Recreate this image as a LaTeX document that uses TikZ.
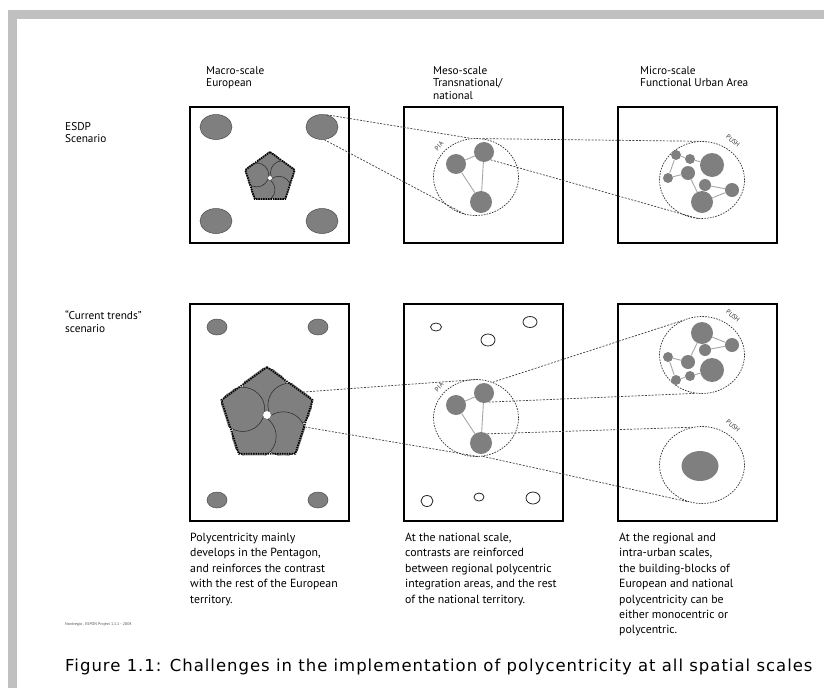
\documentclass[tikz,border=0pt]{standalone}
\usepackage{fontspec}
\setmainfont{PT Sans}
\newfontfamily\figfont[LetterSpace=6]{DejaVu Sans}
\usetikzlibrary{shapes.geometric}

\definecolor{bandgray}{HTML}{C0C0C0}
\definecolor{citygray}{HTML}{7F7F7F}

\tikzset{
  panel/.style={draw=black, line width=2.4pt},
  town/.style={ellipse, draw=black!70, fill=citygray, line width=0.5pt, inner sep=0pt},
  hub/.style={circle, fill=citygray, inner sep=0pt},
  spot/.style={ellipse, draw=black!85, fill=white, line width=0.8pt, inner sep=0pt},
  link/.style={gray!70, line width=0.9pt},
  area/.style={ellipse, draw=black!80, dash pattern=on 1.6pt off 1.2pt, line width=0.7pt,
    inner sep=0pt, minimum width=85pt, minimum height=77pt},
  zoomline/.style={black!75, dash pattern=on 2pt off 1.4pt, line width=0.7pt},
  tag/.style={font=\fontsize{6.5}{7}\selectfont, text=black!80, inner sep=0pt},
  head/.style={font=\fontsize{11.3}{12.6}\selectfont, align=left, anchor=north west, inner sep=0pt},
  note/.style={font=\fontsize{11.8}{15.4}\selectfont, align=left, anchor=north west, inner sep=0pt},
}

% pentagon of merged cities: centre x, centre y, radius
\newcommand\pentacity[3]{%
  \begin{scope}[shift={(#1,#2)}]
    \begin{scope}
      \clip (90:1.04*#3pt) \foreach \a in {162,234,306,18}{-- (\a:1.04*#3pt)} -- cycle;
      \foreach \a in {95,23,-49,-121,-193}
        \filldraw[fill=citygray, draw=black!85, line width=0.5pt] (\a:0.52*#3pt) circle[radius=0.46*#3pt];
    \end{scope}
    \filldraw[fill=white, draw=black!70, line width=0.3pt] (0,0) circle[radius=0.09*#3pt];
    \draw[black, line width=1.8pt, dash pattern=on 1.4pt off 1pt]
      (90:#3pt) \foreach \a in {162,234,306,18}{-- (\a:#3pt)} -- cycle;
  \end{scope}}

% integration area with three cities: name, centre x, centre y
\newcommand\piagraph[3]{%
  \begin{scope}[shift={(#2,#3)}]
    \node[area] (#1) at (0,0) {};
    \node[tag, rotate=48] (#1tag) at (-37,-31) {PIA};
    \node[hub, minimum size=20pt] (#1a) at (-20,-13) {};
    \node[hub, minimum size=20pt] (#1b) at (8,-25) {};
    \node[hub, minimum size=22pt] (#1c) at (5,25) {};
    \draw[link] (#1a) -- (#1b) (#1a) -- (#1c) (#1b) -- (#1c);
  \end{scope}}

% urban area with a web of cities: name, centre x, centre y, flip
\newcommand\fuagraph[4]{%
  \node[area] (#1) at (#2,#3) {};
  \node[tag, rotate=-40] (#1tag) at (#2+31,#3-39) {PUSH};
  \begin{scope}[shift={(#2,#3)}, yscale=#4]
    \node[hub, minimum size=10pt] (#1a) at (-26,-25) {};
    \node[hub, minimum size=10pt] (#1b) at (-12,-21) {};
    \node[hub, minimum size=24pt] (#1c) at (10,-15) {};
    \node[hub, minimum size=14pt] (#1d) at (-14,-7) {};
    \node[hub, minimum size=10pt] (#1e) at (-34,-2) {};
    \node[hub, minimum size=12pt] (#1f) at (3,5) {};
    \node[hub, minimum size=14pt] (#1g) at (30,10) {};
    \node[hub, minimum size=22pt] (#1h) at (0,22) {};
    \draw[link] (#1a) -- (#1e) (#1a) -- (#1b) (#1b) -- (#1c) (#1e) -- (#1d)
      (#1d) -- (#1h) (#1h) -- (#1g) (#1g) -- (#1f);
  \end{scope}}

\begin{document}
\begin{tikzpicture}[x=1pt,y=-1pt]
\useasboundingbox (0,0) rectangle (824,688);
\fill[bandgray] (8,10) rectangle (824,19);
\fill[bandgray] (8,10) rectangle (17,688);

\node[head] (macro) at (206,66) {Macro-scale\\European};
\node[head] (meso) at (433,66) {Meso-scale\\Transnational/\\national};
\node[head] (micro) at (640,66) {Micro-scale\\Functional Urban Area};
\node[head] (esdp) at (65,122) {ESDP\\Scenario};
\node[head] (trend) at (65,311) {“Current trends”\\scenario};

\foreach \px in {190,404,618}{
  \draw[panel] (\px,107) rectangle ++(159,136);
  \draw[panel] (\px,304) rectangle ++(159,217);
}

% macro-scale
\node[town, minimum width=32pt, minimum height=25pt] (tnw) at (216,127) {};
\node[town, minimum width=32pt, minimum height=25pt] (tne) at (322,127) {};
\node[town, minimum width=32pt, minimum height=25pt] (tsw) at (216,221) {};
\node[town, minimum width=32pt, minimum height=25pt] (tse) at (322,221) {};
\pentacity{270}{178}{26}
\node[town, minimum width=20pt, minimum height=16pt] (snw) at (217,327) {};
\node[town, minimum width=20pt, minimum height=16pt] (sne) at (318,327) {};
\node[town, minimum width=20pt, minimum height=16pt] (ssw) at (217,500) {};
\node[town, minimum width=20pt, minimum height=16pt] (sse) at (318,500) {};
\pentacity{267}{415}{48}
\coordinate (pentne) at (303,392);
\coordinate (pentse) at (305,427);

% meso-scale
\piagraph{piat}{476}{177}
\piagraph{piab}{476}{418}
\node[spot, minimum width=11pt, minimum height=8pt] (w1) at (436,327) {};
\node[spot, minimum width=14pt, minimum height=11pt] (w2) at (530,322) {};
\node[spot, minimum width=14pt, minimum height=12pt] (w3) at (488,340) {};
\node[spot, minimum width=12pt, minimum height=11pt] (w4) at (427,501) {};
\node[spot, minimum width=10pt, minimum height=8pt] (w5) at (479,497) {};
\node[spot, minimum width=14pt, minimum height=12pt] (w6) at (533,498) {};

% micro-scale
\fuagraph{fuat}{702}{180}{1}
\fuagraph{fuab}{702}{355}{-1}
\node[area] (fuam) at (702,465) {};
\node[tag, rotate=-40] (fuamtag) at (733,426) {PUSH};
\node[town, draw=none, minimum width=37pt, minimum height=30pt] (core) at (700,466) {};

% zoom lines
\draw[zoomline] (tne.70) -- (piat.97);
\draw[zoomline] (tne.-80) -- (piat.-105);
\draw[zoomline] (piat.80) -- (fuat.95);
\draw[zoomline] (piatb.-50) -- (fuat.-95);
\draw[zoomline] (pentne) -- (piab.85);
\draw[zoomline] (pentse) -- (piab.-85);
\draw[zoomline] (piab.65) -- (fuab.120);
\draw[zoomline] (piabb.-63) -- (fuab.-100);
\draw[zoomline] (piabc.55) -- (fuam.105);
\draw[zoomline] (piab.-80) -- (fuam.-110);

\node[note] (capmacro) at (190,533) {Polycentricity mainly\\develops in the Pentagon,\\and reinforces the contrast\\with the rest of the European\\territory.};
\node[note] (capmeso) at (405,533) {At the national scale,\\contrasts are reinforced\\between regional polycentric\\integration areas, and the rest\\of the national territory.};
\node[note] (capmicro) at (619,533) {At the regional and\\intra-urban scales,\\the building-blocks of\\European and national\\polycentricity can be\\either monocentric or\\polycentric.};
\node[font=\fontsize{4}{5}\selectfont, text=black!70, anchor=west, inner sep=0pt] (source) at (65,624) {Nordregio , ESPON Project 1.1.1 - 2004};
\node[font={\figfont\fontsize{16.5}{19}\selectfont}, anchor=west, inner sep=0pt] (figcap) at (65,667) {Figure 1.1: Challenges in the implementation of polycentricity at all spatial scales};
\end{tikzpicture}
\end{document}
